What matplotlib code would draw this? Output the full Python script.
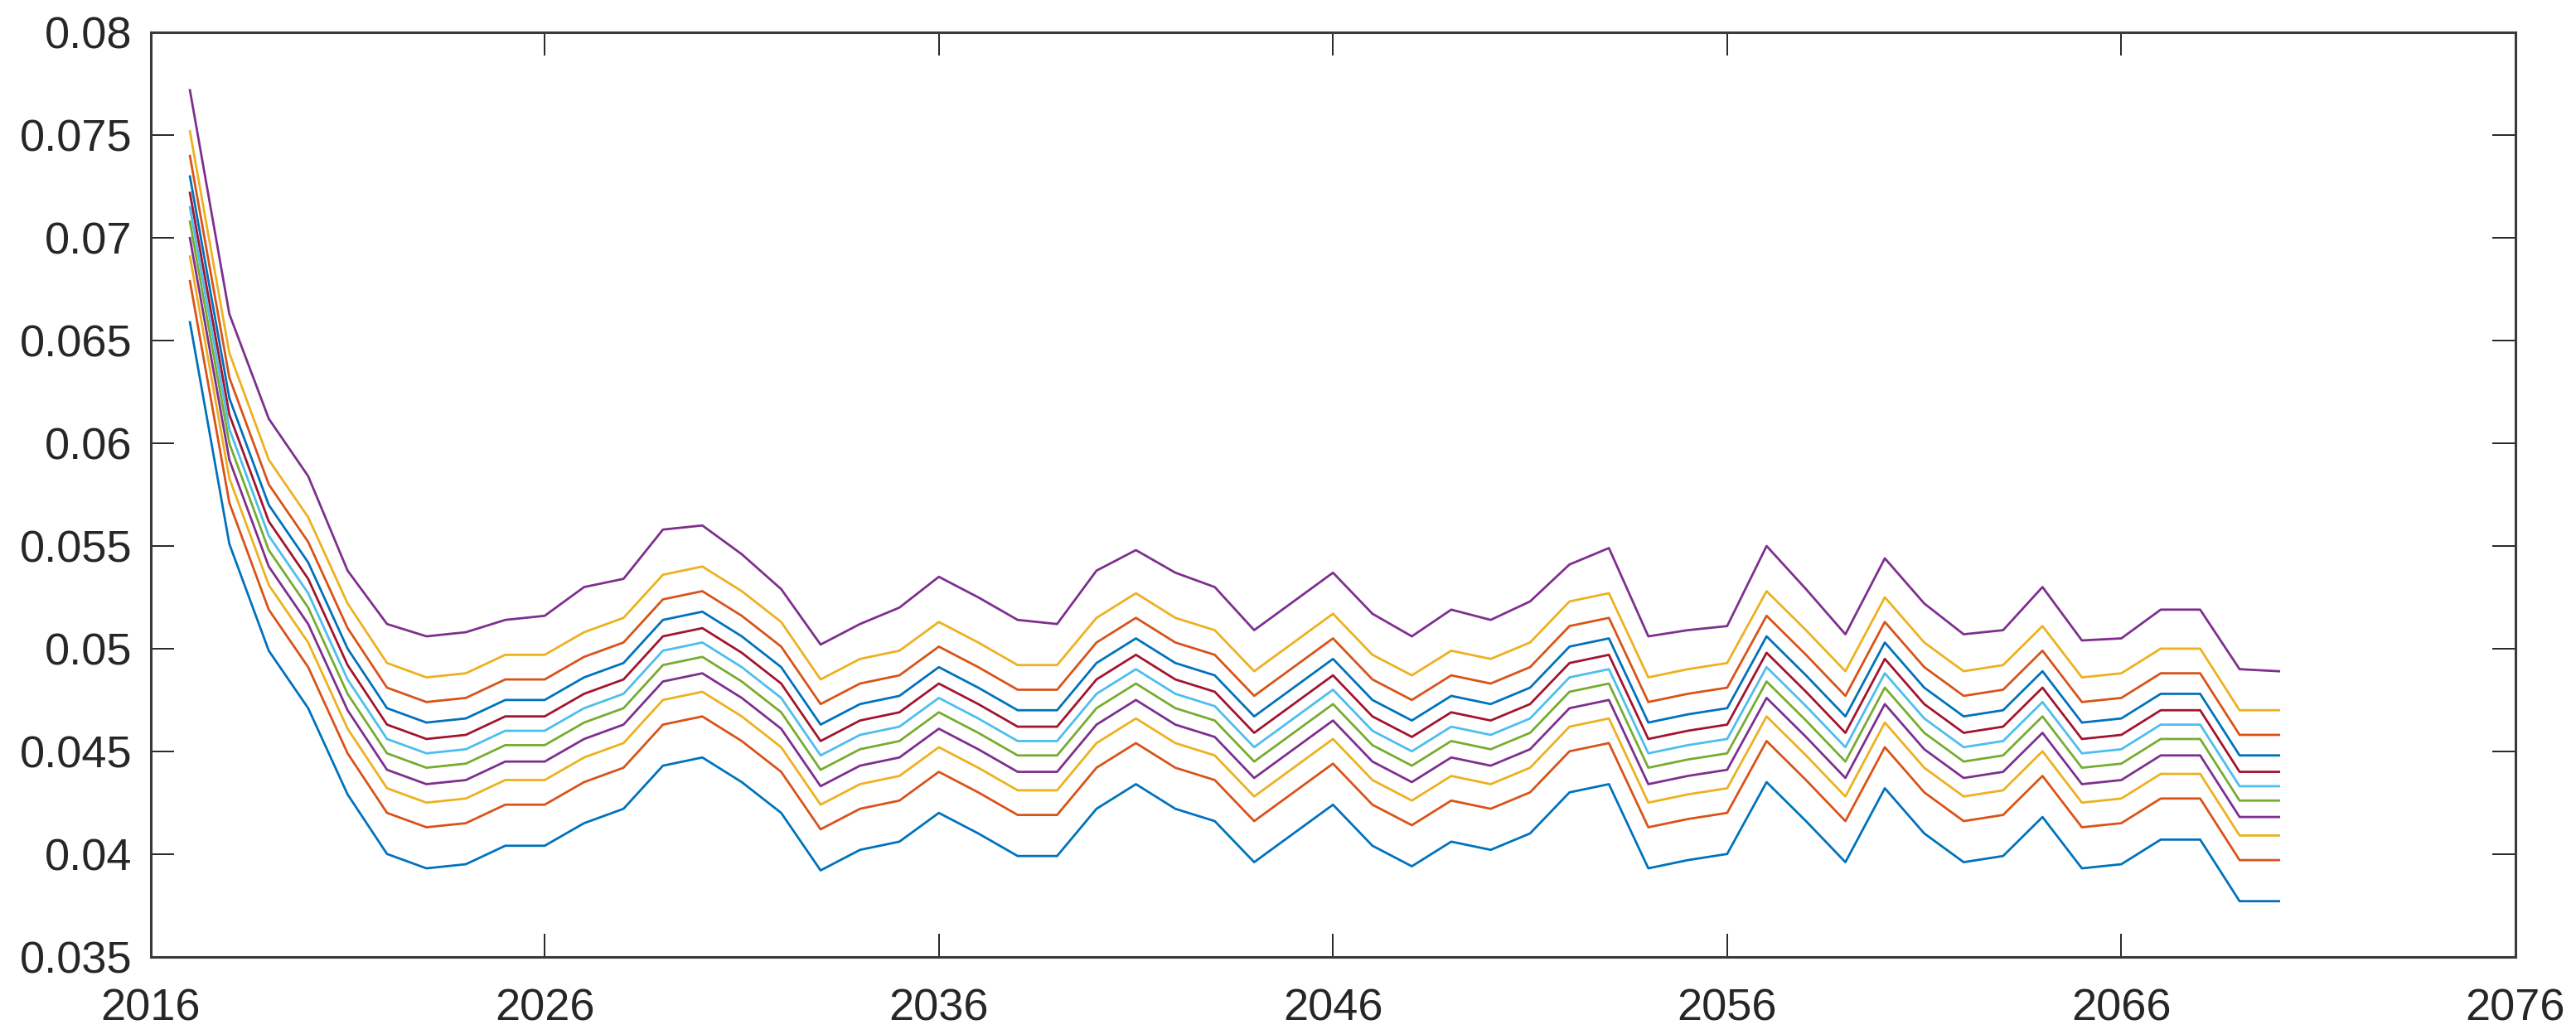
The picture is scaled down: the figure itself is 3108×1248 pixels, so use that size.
import matplotlib
matplotlib.use("Agg")
import matplotlib.pyplot as plt

years = list(range(2017, 2071))

s1 = [0.0659, 0.0551, 0.0499, 0.0471, 0.0429, 0.0400, 0.0393, 0.0395, 0.0404, 0.0404,
      0.0415, 0.0422, 0.0443, 0.0447, 0.0435, 0.0420, 0.0392, 0.0402, 0.0406, 0.0420,
      0.0410, 0.0399, 0.0399, 0.0422, 0.0434, 0.0422, 0.0416, 0.0396, 0.0410, 0.0424,
      0.0404, 0.0394, 0.0406, 0.0402, 0.0410, 0.0430, 0.0434, 0.0393, 0.0397, 0.0400,
      0.0435, 0.0416, 0.0396, 0.0432, 0.0410, 0.0396, 0.0399, 0.0418, 0.0393, 0.0395,
      0.0407, 0.0407, 0.0377, 0.0377]
s2 = [0.0679, 0.0571, 0.0519, 0.0491, 0.0449, 0.0420, 0.0413, 0.0415, 0.0424, 0.0424,
      0.0435, 0.0442, 0.0463, 0.0467, 0.0455, 0.0440, 0.0412, 0.0422, 0.0426, 0.0440,
      0.0430, 0.0419, 0.0419, 0.0442, 0.0454, 0.0442, 0.0436, 0.0416, 0.0430, 0.0444,
      0.0424, 0.0414, 0.0426, 0.0422, 0.0430, 0.0450, 0.0454, 0.0413, 0.0417, 0.0420,
      0.0455, 0.0436, 0.0416, 0.0452, 0.0430, 0.0416, 0.0419, 0.0438, 0.0413, 0.0415,
      0.0427, 0.0427, 0.0397, 0.0397]
s3 = [0.0691, 0.0583, 0.0531, 0.0503, 0.0461, 0.0432, 0.0425, 0.0427, 0.0436, 0.0436,
      0.0447, 0.0454, 0.0475, 0.0479, 0.0467, 0.0452, 0.0424, 0.0434, 0.0438, 0.0452,
      0.0442, 0.0431, 0.0431, 0.0454, 0.0466, 0.0454, 0.0448, 0.0428, 0.0442, 0.0456,
      0.0436, 0.0426, 0.0438, 0.0434, 0.0442, 0.0462, 0.0466, 0.0425, 0.0429, 0.0432,
      0.0467, 0.0448, 0.0428, 0.0464, 0.0442, 0.0428, 0.0431, 0.0450, 0.0425, 0.0427,
      0.0439, 0.0439, 0.0409, 0.0409]
s4 = [0.0700, 0.0592, 0.0540, 0.0512, 0.0470, 0.0441, 0.0434, 0.0436, 0.0445, 0.0445,
      0.0456, 0.0463, 0.0484, 0.0488, 0.0476, 0.0461, 0.0433, 0.0443, 0.0447, 0.0461,
      0.0451, 0.0440, 0.0440, 0.0463, 0.0475, 0.0463, 0.0457, 0.0437, 0.0451, 0.0465,
      0.0445, 0.0435, 0.0447, 0.0443, 0.0451, 0.0471, 0.0475, 0.0434, 0.0438, 0.0441,
      0.0476, 0.0457, 0.0437, 0.0473, 0.0451, 0.0437, 0.0440, 0.0459, 0.0434, 0.0436,
      0.0448, 0.0448, 0.0418, 0.0418]
s5 = [0.0708, 0.0600, 0.0548, 0.0520, 0.0478, 0.0449, 0.0442, 0.0444, 0.0453, 0.0453,
      0.0464, 0.0471, 0.0492, 0.0496, 0.0484, 0.0469, 0.0441, 0.0451, 0.0455, 0.0469,
      0.0459, 0.0448, 0.0448, 0.0471, 0.0483, 0.0471, 0.0465, 0.0445, 0.0459, 0.0473,
      0.0453, 0.0443, 0.0455, 0.0451, 0.0459, 0.0479, 0.0483, 0.0442, 0.0446, 0.0449,
      0.0484, 0.0465, 0.0445, 0.0481, 0.0459, 0.0445, 0.0448, 0.0467, 0.0442, 0.0444,
      0.0456, 0.0456, 0.0426, 0.0426]
s6 = [0.0715, 0.0607, 0.0555, 0.0527, 0.0485, 0.0456, 0.0449, 0.0451, 0.0460, 0.0460,
      0.0471, 0.0478, 0.0499, 0.0503, 0.0491, 0.0476, 0.0448, 0.0458, 0.0462, 0.0476,
      0.0466, 0.0455, 0.0455, 0.0478, 0.0490, 0.0478, 0.0472, 0.0452, 0.0466, 0.0480,
      0.0460, 0.0450, 0.0462, 0.0458, 0.0466, 0.0486, 0.0490, 0.0449, 0.0453, 0.0456,
      0.0491, 0.0472, 0.0452, 0.0488, 0.0466, 0.0452, 0.0455, 0.0474, 0.0449, 0.0451,
      0.0463, 0.0463, 0.0433, 0.0433]
s7 = [0.0722, 0.0614, 0.0562, 0.0534, 0.0492, 0.0463, 0.0456, 0.0458, 0.0467, 0.0467,
      0.0478, 0.0485, 0.0506, 0.0510, 0.0498, 0.0483, 0.0455, 0.0465, 0.0469, 0.0483,
      0.0473, 0.0462, 0.0462, 0.0485, 0.0497, 0.0485, 0.0479, 0.0459, 0.0473, 0.0487,
      0.0467, 0.0457, 0.0469, 0.0465, 0.0473, 0.0493, 0.0497, 0.0456, 0.0460, 0.0463,
      0.0498, 0.0479, 0.0459, 0.0495, 0.0473, 0.0459, 0.0462, 0.0481, 0.0456, 0.0458,
      0.0470, 0.0470, 0.0440, 0.0440]
s8 = [0.0730, 0.0622, 0.0570, 0.0542, 0.0500, 0.0471, 0.0464, 0.0466, 0.0475, 0.0475,
      0.0486, 0.0493, 0.0514, 0.0518, 0.0506, 0.0491, 0.0463, 0.0473, 0.0477, 0.0491,
      0.0481, 0.0470, 0.0470, 0.0493, 0.0505, 0.0493, 0.0487, 0.0467, 0.0481, 0.0495,
      0.0475, 0.0465, 0.0477, 0.0473, 0.0481, 0.0501, 0.0505, 0.0464, 0.0468, 0.0471,
      0.0506, 0.0487, 0.0467, 0.0503, 0.0481, 0.0467, 0.0470, 0.0489, 0.0464, 0.0466,
      0.0478, 0.0478, 0.0448, 0.0448]
s9 = [0.0740, 0.0632, 0.0580, 0.0552, 0.0510, 0.0481, 0.0474, 0.0476, 0.0485, 0.0485,
      0.0496, 0.0503, 0.0524, 0.0528, 0.0516, 0.0501, 0.0473, 0.0483, 0.0487, 0.0501,
      0.0491, 0.0480, 0.0480, 0.0503, 0.0515, 0.0503, 0.0497, 0.0477, 0.0491, 0.0505,
      0.0485, 0.0475, 0.0487, 0.0483, 0.0491, 0.0511, 0.0515, 0.0474, 0.0478, 0.0481,
      0.0516, 0.0497, 0.0477, 0.0513, 0.0491, 0.0477, 0.0480, 0.0499, 0.0474, 0.0476,
      0.0488, 0.0488, 0.0458, 0.0458]
s10 = [0.0752, 0.0644, 0.0592, 0.0564, 0.0522, 0.0493, 0.0486, 0.0488, 0.0497, 0.0497,
       0.0508, 0.0515, 0.0536, 0.0540, 0.0528, 0.0513, 0.0485, 0.0495, 0.0499, 0.0513,
       0.0503, 0.0492, 0.0492, 0.0515, 0.0527, 0.0515, 0.0509, 0.0489, 0.0503, 0.0517,
       0.0497, 0.0487, 0.0499, 0.0495, 0.0503, 0.0523, 0.0527, 0.0486, 0.0490, 0.0493,
       0.0528, 0.0509, 0.0489, 0.0525, 0.0503, 0.0489, 0.0492, 0.0511, 0.0486, 0.0488,
       0.0500, 0.0500, 0.0470, 0.0470]
s11 = [0.0772, 0.0663, 0.0612, 0.0584, 0.0538, 0.0512, 0.0506, 0.0508, 0.0514, 0.0516,
       0.0530, 0.0534, 0.0558, 0.0560, 0.0546, 0.0529, 0.0502, 0.0512, 0.0520, 0.0535,
       0.0525, 0.0514, 0.0512, 0.0538, 0.0548, 0.0537, 0.0530, 0.0509, 0.0523, 0.0537,
       0.0517, 0.0506, 0.0519, 0.0514, 0.0523, 0.0541, 0.0549, 0.0506, 0.0509, 0.0511,
       0.0550, 0.0529, 0.0507, 0.0544, 0.0522, 0.0507, 0.0509, 0.0530, 0.0504, 0.0505,
       0.0519, 0.0519, 0.0490, 0.0489]

series = [s1, s2, s3, s4, s5, s6, s7, s8, s9, s10, s11]

colors = ["#0072BD", "#D95319", "#EDB120", "#7E2F8E", "#77AC30",
          "#4DBEEE", "#A2142F"]

xticks = [2016, 2026, 2036, 2046, 2056, 2066, 2076]
xtick_labels = ["2016", "2026", "2036", "2046", "2056", "2066", "2076"]
yticks = [0.035, 0.04, 0.045, 0.05, 0.055, 0.06, 0.065, 0.07, 0.075, 0.08]
ytick_labels = ["0.035", "0.04", "0.045", "0.05", "0.055", "0.06",
                "0.065", "0.07", "0.075", "0.08"]

plt.rcParams["font.family"] = ["Liberation Sans", "DejaVu Sans"]

fig = plt.figure(figsize=(31.08, 12.48), dpi=100)
left, right = 0.05843, 0.97651
bottom, top = 0.07484, 0.96835
ax = fig.add_axes([left, bottom, right - left, top - bottom])

for i, vals in enumerate(series):
    ax.plot(years, vals, color=colors[i % len(colors)], lw=2.0)

ax.set_xlim(2016, 2076)
ax.set_ylim(0.035, 0.08)
ax.set_xticks(xticks)
ax.set_xticklabels(xtick_labels)
ax.set_yticks(yticks)
ax.set_yticklabels(ytick_labels)

axcol = "#262626"
ax.tick_params(direction="in", length=20, width=1.4, color=axcol,
               labelcolor=axcol, labelsize=39, top=True, right=True)
ax.tick_params(axis="x", pad=27)
ax.tick_params(axis="y", pad=16)
for sp in ax.spines.values():
    sp.set_linewidth(2.2)
    sp.set_color("#3a3a3a")

fig.savefig("out.png", dpi=100, facecolor="white")
